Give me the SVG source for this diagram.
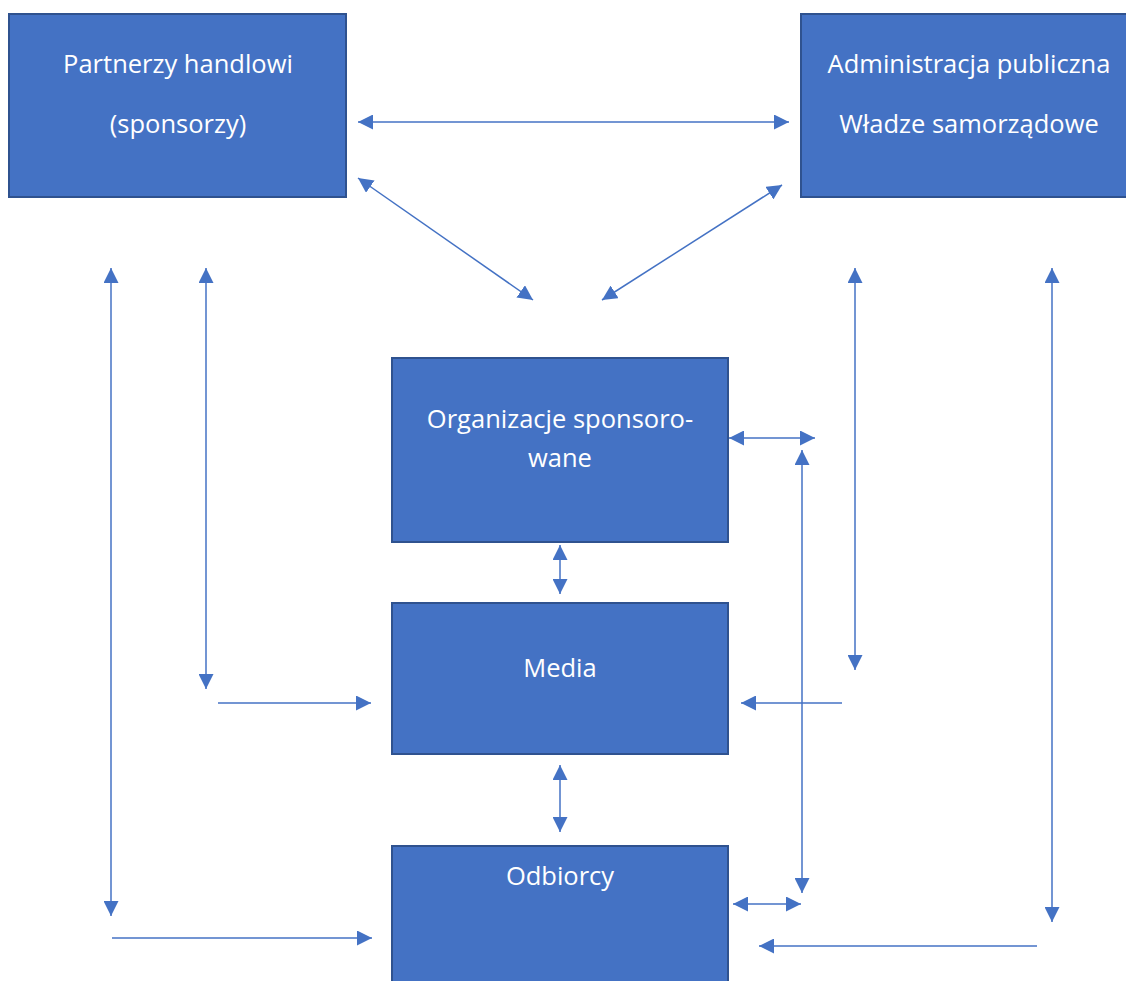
<svg xmlns="http://www.w3.org/2000/svg" width="1126" height="981" viewBox="0 0 1126 981">
  <style>
    .box { fill: #4472C4; stroke: #2F528F; stroke-width: 2; }
    .lbl { fill: #FFFFFF; font-family: "Open Sans", "Liberation Sans", sans-serif; font-size: 25.5px; text-anchor: middle; }
    .ln { stroke: #4472C4; stroke-width: 1.5; fill: none; }
  </style>
  <defs>
    <marker id="ah" viewBox="0 0 15 15" refX="15" refY="7.5" markerWidth="15" markerHeight="15" markerUnits="userSpaceOnUse" orient="auto-start-reverse">
      <path d="M0,0 L15,7.5 L0,15 Z" fill="#4472C4"/>
    </marker>
  </defs>
  <rect width="1126" height="981" fill="#FFFFFF"/>

  <g id="partnerzy">
    <rect class="box" x="9" y="14" width="337" height="183"/>
    <text class="lbl" x="178" y="73">Partnerzy handlowi</text>
    <text class="lbl" x="178" y="133">(sponsorzy)</text>
  </g>

  <g id="administracja">
    <rect class="box" x="801" y="14" width="326" height="183"/>
    <text class="lbl" x="969" y="73">Administracja publiczna</text>
    <text class="lbl" x="969" y="133">Władze samorządowe</text>
  </g>

  <g id="organizacje">
    <rect class="box" x="392" y="358" width="336" height="184"/>
    <text class="lbl" x="560" y="428">Organizacje sponsoro-</text>
    <text class="lbl" x="560" y="467">wane</text>
  </g>

  <g id="media">
    <rect class="box" x="392" y="603" width="336" height="151"/>
    <text class="lbl" x="560" y="677">Media</text>
  </g>

  <g id="odbiorcy">
    <rect class="box" x="392" y="846" width="336" height="140"/>
    <text class="lbl" x="560" y="885">Odbiorcy</text>
  </g>

  <g id="connectors">
    <!-- top triangle -->
    <line class="ln" x1="358" y1="122" x2="789" y2="122" marker-start="url(#ah)" marker-end="url(#ah)"/>
    <line class="ln" x1="358" y1="178" x2="533" y2="300" marker-start="url(#ah)" marker-end="url(#ah)"/>
    <line class="ln" x1="782" y1="185" x2="602" y2="300" marker-start="url(#ah)" marker-end="url(#ah)"/>

    <!-- left side -->
    <line class="ln" x1="111" y1="268" x2="111" y2="916" marker-start="url(#ah)" marker-end="url(#ah)"/>
    <line class="ln" x1="206" y1="268" x2="206" y2="689" marker-start="url(#ah)" marker-end="url(#ah)"/>
    <line class="ln" x1="218" y1="703" x2="371" y2="703" marker-end="url(#ah)"/>
    <line class="ln" x1="112" y1="938" x2="372" y2="938" marker-end="url(#ah)"/>

    <!-- centre column -->
    <line class="ln" x1="560" y1="545" x2="560" y2="594" marker-start="url(#ah)" marker-end="url(#ah)"/>
    <line class="ln" x1="560" y1="765" x2="560" y2="832" marker-start="url(#ah)" marker-end="url(#ah)"/>

    <!-- right side -->
    <line class="ln" x1="729" y1="438" x2="815" y2="438" marker-start="url(#ah)" marker-end="url(#ah)"/>
    <line class="ln" x1="802" y1="450" x2="802" y2="893" marker-start="url(#ah)" marker-end="url(#ah)"/>
    <line class="ln" x1="855" y1="268" x2="855" y2="670" marker-start="url(#ah)" marker-end="url(#ah)"/>
    <line class="ln" x1="1052" y1="268" x2="1052" y2="922" marker-start="url(#ah)" marker-end="url(#ah)"/>
    <line class="ln" x1="842" y1="703" x2="741" y2="703" marker-end="url(#ah)"/>
    <line class="ln" x1="733" y1="904" x2="801" y2="904" marker-start="url(#ah)" marker-end="url(#ah)"/>
    <line class="ln" x1="1037" y1="946" x2="759" y2="946" marker-end="url(#ah)"/>
  </g>
</svg>
